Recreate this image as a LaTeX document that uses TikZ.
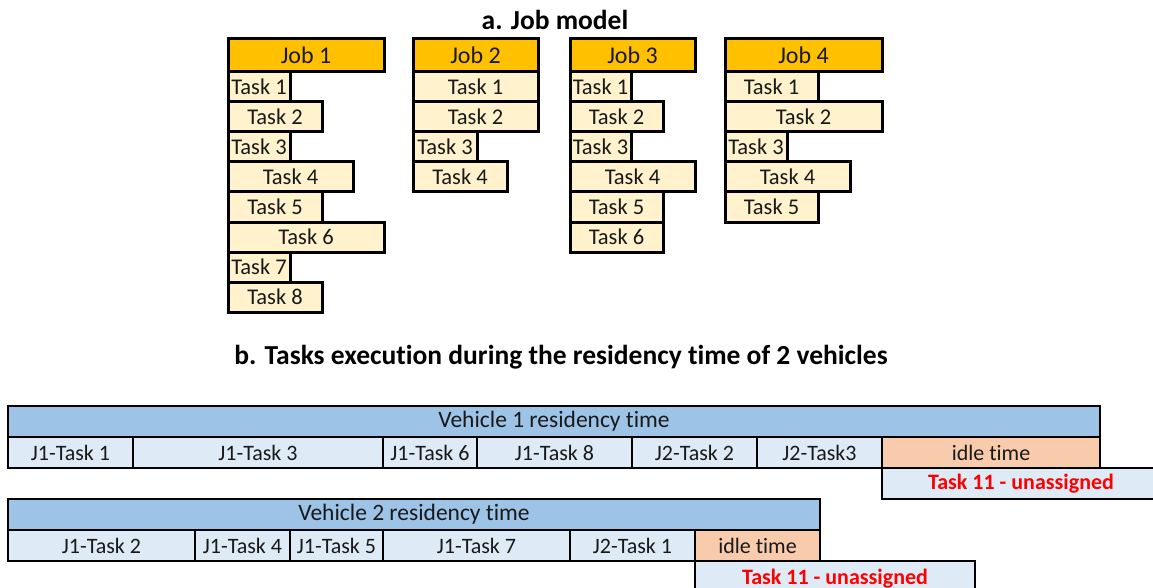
\documentclass[tikz,border=0pt]{standalone}
\usepackage{fontspec}
\setmainfont{Carlito}[Ligatures=NoCommon]
\definecolor{jobhead}{HTML}{FFC000}
\definecolor{jobtask}{HTML}{FFF2CC}
\definecolor{vehbar}{HTML}{9DC3E6}
\definecolor{vehcell}{HTML}{DEEBF7}
\definecolor{idlecell}{HTML}{F8CBAD}
\definecolor{alertred}{HTML}{FF0000}
\tikzset{
  cellbase/.style={draw=black, inner sep=0pt, outer sep=0pt, anchor=north west,
    font=\fontsize{22}{24}\selectfont, text=black!90},
  jobhead/.style={cellbase, fill=jobhead, line width=3pt, minimum height=33,
    font=\fontsize{24}{26}\selectfont},
  jobtask/.style={cellbase, fill=jobtask, line width=3pt, minimum height=30,
    font=\fontsize{22.5}{24}\selectfont},
  vehbar/.style={cellbase, fill=vehbar, line width=2.6pt, minimum height=31,
    font=\fontsize{23.5}{26}\selectfont},
  vehcell/.style={cellbase, fill=vehcell, line width=2.6pt, minimum height=31},
  idlecell/.style={cellbase, fill=idlecell, line width=2.6pt, minimum height=31},
  lostcell/.style={cellbase, fill=vehcell, line width=2.6pt, minimum height=31,
    text=alertred, font=\fontsize{22}{24}\selectfont\bfseries},
  heading/.style={font=\fontsize{27.5}{30}\selectfont\bfseries, inner sep=0pt}
}
\begin{document}
\begin{tikzpicture}[x=1pt,y=-1pt]
\useasboundingbox (0,0) rectangle (1153,588);
\clip (0,0) rectangle (1153,588);

% ---- a. Job model ----
\node[heading] (titleA) at (555,20) {a. Job model};

\node[jobhead, minimum width=156] (job1) at (228,39) {Job 1};
\foreach \w [count=\i] in {62,94,62,125,94,156,62,94}
  \node[jobtask, minimum width=\w] (j1t\i) at ({228},{72+30*(\i-1)}) {Task \i};

\node[jobhead, minimum width=125] (job2) at (413,39) {Job 2};
\foreach \w [count=\i] in {125,125,64,94}
  \node[jobtask, minimum width=\w] (j2t\i) at ({413},{72+30*(\i-1)}) {Task \i};

\node[jobhead, minimum width=125] (job3) at (570,39) {Job 3};
\foreach \w [count=\i] in {61,93,61,125,93,93}
  \node[jobtask, minimum width=\w] (j3t\i) at ({570},{72+30*(\i-1)}) {Task \i};

\node[jobhead, minimum width=157] (job4) at (725,39) {Job 4};
\foreach \w [count=\i] in {93,157,62,125,93}
  \node[jobtask, minimum width=\w] (j4t\i) at ({725},{72+30*(\i-1)}) {Task \i};

% ---- b. Tasks execution ----
\node[heading] (titleB) at (561,357) {b. Tasks execution during the residency time of 2 vehicles};

% vehicle 1
\node[vehbar, minimum width=1092] (veh1) at (8,406) {\raisebox{-2pt}{Vehicle 1 residency time}};
\node[vehcell, minimum width=125] (v1a) at (8,437) {J1-Task 1};
\node[vehcell, minimum width=250] (v1b) at (133,437) {J1-Task 3};
\node[vehcell, minimum width=94]  (v1c) at (383,437) {J1-Task 6};
\node[vehcell, minimum width=155] (v1d) at (477,437) {J1-Task 8};
\node[vehcell, minimum width=125] (v1e) at (632,437) {J2-Task 2};
\node[vehcell, minimum width=125] (v1f) at (757,437) {J2-Task3};
\node[idlecell, minimum width=218] (v1idle) at (882,437) {idle time};
\node[lostcell, minimum width=290] (v1lost) at (882,468) {\hspace*{-12pt}Task 11 - unassigned};

% vehicle 2
\node[vehbar, minimum width=812] (veh2) at (8,499) {\raisebox{-2pt}{Vehicle 2 residency time}};
\node[vehcell, minimum width=187] (v2a) at (8,530) {J1-Task 2};
\node[vehcell, minimum width=95]  (v2b) at (195,530) {J1-Task 4};
\node[vehcell, minimum width=93]  (v2c) at (290,530) {J1-Task 5};
\node[vehcell, minimum width=187] (v2d) at (383,530) {J1-Task 7};
\node[vehcell, minimum width=125] (v2e) at (570,530) {J2-Task 1};
\node[idlecell, minimum width=125] (v2idle) at (695,530) {idle time};
\node[lostcell, minimum width=280, minimum height=36] (v2lost) at (695,561) {\raisebox{5pt}{Task 11 - unassigned}};
\end{tikzpicture}
\end{document}
